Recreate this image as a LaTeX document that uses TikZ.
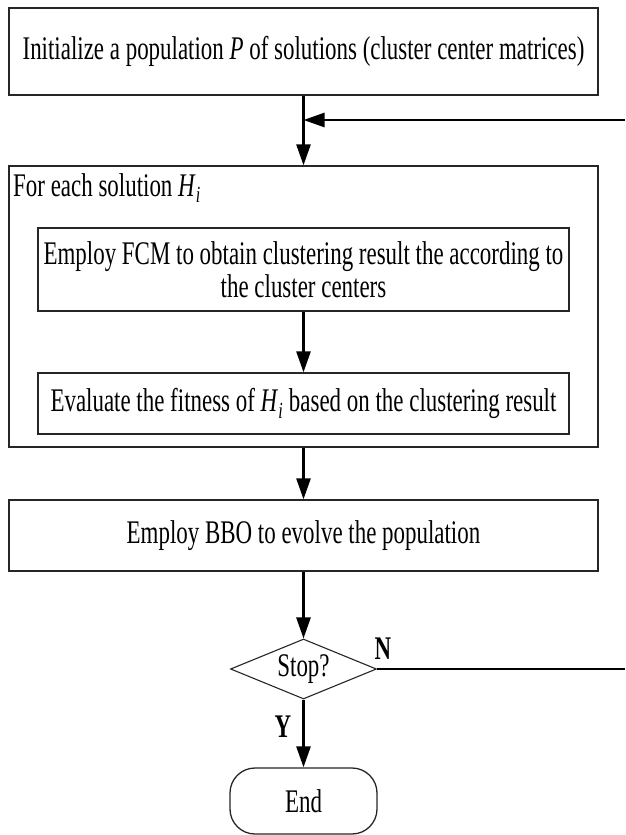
\documentclass[tikz,border=0pt]{standalone}
\usepackage{fontspec}
\setmainfont{Liberation Serif}[FakeStretch=0.695]
\usetikzlibrary{arrows.meta,shapes.geometric}
\begin{document}
\begin{tikzpicture}[x=1pt,y=-1pt,
  every node/.style={font=\fontsize{33}{33}\selectfont, inner sep=0pt},
  box/.style={draw=black!85, line width=1.3pt, align=center},
  arr/.style={line width=2.6pt, -{Triangle[length=21pt,width=14pt]}},
  flow/.style={line width=2.6pt},
  yn/.style={font=\fontsize{33}{33}\selectfont\bfseries}]
\useasboundingbox (0,0) rectangle (625,835);
\node[box, minimum width=589pt, minimum height=87pt] (init) at (303.5,51.5)
  {Initialize a population \textit{P} of solutions (cluster center matrices)};
\node[box, minimum width=589pt, minimum height=281pt] (loop) at (303.5,306.5) {};
\node[anchor=base west] (lbl) at (13,196) {For each solution \textit{H}\textsubscript{\textit{i}}};
\node[box, minimum width=531pt, minimum height=83pt] (fcm) at (303.5,269.5)
  {Employ FCM to obtain clustering result the according to\\the cluster centers};
\node[box, minimum width=531pt, minimum height=61pt] (fit) at (303.5,403.5)
  {Evaluate the fitness of \textit{H}\textsubscript{\textit{i}} based on the clustering result};
\node[box, minimum width=589pt, minimum height=71pt] (bbo) at (303.5,535.5)
  {Employ BBO to evolve the population};
\node[draw=black!85, line width=1.1pt, diamond, aspect=2.43, minimum width=146pt, minimum height=60pt] (stop) at (303.5,669) {Stop?};
\node[box, rounded corners=25pt, minimum width=147pt, minimum height=66pt] (end) at (303.5,801) {End};
\node[yn] (n) at (383,649) {N};
\node[yn] (y) at (283,727) {Y};
\coordinate (fb) at (625,120);
\coordinate (nr) at (625,669);
\draw[arr] (init.south) -- (loop.north);
\draw[arr] (fb) -- (fb -| init.south);
\draw[arr] (fcm.south) -- (fit.north);
\draw[arr] (loop.south) -- (bbo.north);
\draw[arr] (bbo.south) -- (stop.north);
\draw[arr] (stop.south) -- (end.north);
\draw[flow] (stop.east) -- (nr);
\end{tikzpicture}
\end{document}
